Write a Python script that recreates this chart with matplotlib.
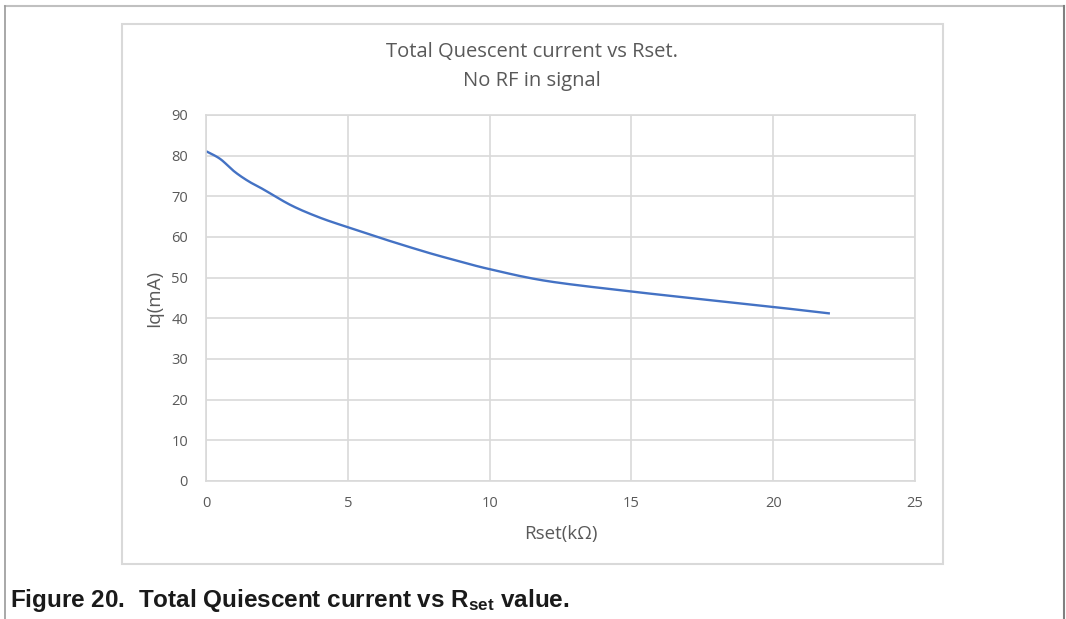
import numpy as np
import matplotlib
matplotlib.use("Agg")
import matplotlib.pyplot as plt
from matplotlib.patches import Rectangle
from matplotlib.lines import Line2D

# Rset (kOhm) vs total quiescent current (mA)
rset = [0, 0.5, 1, 1.5, 2, 3, 4, 5, 6, 7, 8, 9, 10, 12, 15, 18, 20, 22]
iq = [81.1, 79.2, 76.1, 73.7, 71.8, 67.8, 64.8, 62.4, 60.1, 57.9, 55.8, 53.9,
      52.1, 49.2, 46.6, 44.3, 42.8, 41.2]

xticks = [0, 5, 10, 15, 20, 25]
yticks = [0, 10, 20, 30, 40, 50, 60, 70, 80, 90]


def smooth(x, y, n=20):
    # catmull-rom style smoothing, like excel's "smoothed line"
    x = np.asarray(x, float)
    y = np.asarray(y, float)
    px = np.r_[x[0], x, x[-1]]
    py = np.r_[y[0], y, y[-1]]
    xs, ys = [], []
    t = np.linspace(0, 1, n, endpoint=False)
    for i in range(1, len(px) - 2):
        p0, p1, p2, p3 = (np.array([px[j], py[j]]) for j in (i - 1, i, i + 1, i + 2))
        c1 = p1 + (p2 - p0) / 6
        c2 = p2 - (p3 - p1) / 6
        b = ((1 - t) ** 3)[:, None] * p1 + (3 * (1 - t) ** 2 * t)[:, None] * c1 \
            + (3 * (1 - t) * t ** 2)[:, None] * c2 + (t ** 3)[:, None] * p2
        xs.extend(b[:, 0])
        ys.extend(b[:, 1])
    xs.append(x[-1])
    ys.append(y[-1])
    return xs, ys


plt.rcParams['mathtext.fontset'] = 'custom'
plt.rcParams['mathtext.rm'] = 'Liberation Sans'
plt.rcParams['mathtext.bf'] = 'Liberation Sans:bold'

grid_c = '#d9d9d9'
txt_c = '#595959'
W, H = 1066, 619

fig = plt.figure(figsize=(W / 100, H / 100), dpi=100)

# outer document frame
fig.add_artist(Line2D([5 / W, 1064 / W], [1 - 6 / H, 1 - 6 / H], color='#c0c0c0', lw=1.5))
fig.add_artist(Line2D([5 / W, 5 / W], [0, 1 - 6 / H], color='#9a9a9a', lw=1.2))
fig.add_artist(Line2D([1064 / W, 1064 / W], [0, 1 - 6 / H], color='#808080', lw=1.5))

# chart area box
fig.add_artist(Rectangle((122 / W, 1 - 564 / H), 821 / W, 540 / H, fill=False,
                         edgecolor=grid_c, lw=1.5, transform=fig.transFigure))

ax = fig.add_axes([206 / W, 1 - 481 / H, 709 / W, 366 / H])
sx, sy = smooth(rset, iq)
ax.plot(sx, sy, color='#4472C4', lw=1.7, solid_capstyle='butt')

ax.set_xlim(0, 25)
ax.set_ylim(0, 90)
ax.set_xticks(xticks)
ax.set_yticks(yticks)
ax.grid(True, color=grid_c, lw=1.2)
ax.set_axisbelow(True)
for s in ax.spines.values():
    s.set_color(grid_c)
    s.set_linewidth(1.2)
ax.tick_params(length=0, colors=txt_c, labelsize=10.5, pad=11)
ax.tick_params(axis='y', pad=13)
for lab in ax.get_xticklabels() + ax.get_yticklabels():
    lab.set_family('Open Sans')

ax.set_xlabel('Rset(kΩ)', color=txt_c, fontsize=13.5, family='Open Sans', labelpad=10)
ax.set_ylabel('Iq(mA)', color=txt_c, fontsize=13.5, family='Open Sans', labelpad=6)

fig.text(532 / W, 1 - 52 / H, 'Total Quescent current vs Rset.', ha='center', va='center',
         color=txt_c, fontsize=14.5, family='Open Sans')
fig.text(532 / W, 1 - 81 / H, 'No RF in signal', ha='center', va='center',
         color=txt_c, fontsize=14.5, family='Open Sans')

fig.text(10 / W, 1 - 601 / H, r'Figure 20.  Total Quiescent current vs $\mathbf{R_{set}}$ value.',
         ha='left', va='center', fontsize=17.5, fontweight='bold', family='Liberation Sans',
         color='#1a1a1a')

fig.savefig('out.png', dpi=100)
